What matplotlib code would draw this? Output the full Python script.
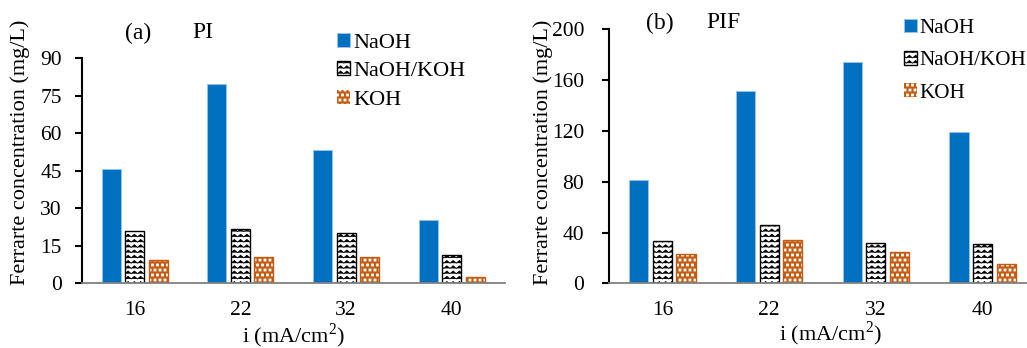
import warnings
import numpy as np
import matplotlib
matplotlib.use('Agg')
import matplotlib.pyplot as plt
from matplotlib import hatch as mhatch
from matplotlib.path import Path

# custom hatch letters ('z', 'q') raise a deprecation warning only
warnings.simplefilter('ignore')

plt.rcParams['font.family'] = ['Liberation Serif', 'DejaVu Serif']
plt.rcParams['font.size'] = 15.5
plt.rcParams['mathtext.fontset'] = 'custom'
plt.rcParams['mathtext.rm'] = 'Liberation Serif'
plt.rcParams['hatch.linewidth'] = 0.6

# Current density and ferrate concentration (mg/L) for each electrolyte
currents = ['16', '22', '32', '40']
pi_naoh = [45.7, 79.6, 53.3, 25.2]
pi_mix = [21.0, 21.8, 20.0, 11.4]
pi_koh = [9.4, 10.6, 10.6, 2.6]
pif_naoh = [81.5, 151.6, 173.9, 118.8]
pif_mix = [33.3, 46.1, 32.0, 31.2]
pif_koh = [23.1, 34.3, 24.4, 15.0]
series_labels = ['NaOH', 'NaOH/KOH', 'KOH']


class ZigZagHatch(mhatch.HatchPatternBase):
    """Horizontal zigzag lines, chosen with 'z' in the hatch string."""

    def __init__(self, hatch, density):
        self.num_rows = hatch.count('z') * 19
        self.num_cols = 16
        self.num_vertices = self.num_rows * (2 * self.num_cols + 1)

    def set_vertices_and_codes(self, vertices, codes):
        xs = np.linspace(0, 1, 2 * self.num_cols + 1)
        amp = 0.5 / self.num_rows
        k = 0
        for y in np.arange(self.num_rows) / self.num_rows:
            for j, x in enumerate(xs):
                vertices[k] = (x, y + amp * (j % 2))
                codes[k] = Path.MOVETO if j == 0 else Path.LINETO
                k += 1


class SquareDotHatch(mhatch.Shapes):
    """Small filled squares on a staggered grid, chosen with 'q'."""
    filled = True
    size = 0.4

    def __init__(self, hatch, density):
        self.num_rows = hatch.count('q') * 20
        square = Path.unit_rectangle()
        self.shape_vertices = square.vertices - 0.5
        self.shape_codes = square.codes
        super().__init__(hatch, density)


mhatch._hatch_types.extend([ZigZagHatch, SquareDotHatch])

W, H = 1027, 348
fig = plt.figure(figsize=(W / 100, H / 100), dpi=100)

bar_w = 0.18
shift = 0.222


def draw_panel(ax, naoh, mix, koh, ymax, ystep, tick_pad):
    x = np.arange(len(currents))
    b1 = ax.bar(x - shift, naoh, bar_w, color='#0070C0', edgecolor='#9DC3E6', linewidth=0.6)
    b2 = ax.bar(x, mix, bar_w, color='white', edgecolor='black', linewidth=1.0, hatch='z')
    b3 = ax.bar(x + shift, koh, bar_w, color='#C55A11', edgecolor='white', linewidth=0, hatch='q')
    ax.bar(x + shift, koh, bar_w, fill=False, edgecolor='#C55A11', linewidth=1.0)

    ax.set_xlim(-0.5, 3.5)
    ax.set_ylim(0, ymax)
    ax.set_yticks(np.arange(0, ymax + 1, ystep))
    ax.set_xticks(x)
    ax.set_xticklabels(currents)
    for s in ['top', 'right']:
        ax.spines[s].set_visible(False)
    ax.spines['left'].set_linewidth(1.5)
    ax.spines['bottom'].set_color('#808080')
    ax.spines['bottom'].set_linewidth(1.3)
    ax.tick_params(axis='y', direction='out', length=4.8, width=1.5, pad=tick_pad)
    ax.tick_params(axis='x', length=0, pad=13)
    ax.set_ylabel('Ferrarte concentration (mg/L)', fontsize=16)
    ax.set_xlabel(r'i (mA/cm$^{2}$)', fontsize=16)
    return [b1, b2, b3]


# (a) PI
ax1 = fig.add_axes([81.7 / W, 64.7 / H, 423 / W, 225 / H])
h1 = draw_panel(ax1, pi_naoh, pi_mix, pi_koh, 90, 15, 9.5)
ax1.yaxis.set_label_coords(-0.122, 0.58)
ax1.xaxis.set_label_coords(0.5, -0.168)
ax1.legend(h1, series_labels, loc='upper left', frameon=False, fontsize=16,
           bbox_to_anchor=(336.7 / W, 1 - 33 / H), bbox_transform=fig.transFigure,
           borderpad=0, borderaxespad=0, handlelength=0.6, handleheight=0.6,
           handletextpad=0.15, labelspacing=0.38)
fig.text(138 / W, 1 - 33 / H, '(a)', ha='center', va='center', fontsize=17)
fig.text(203 / W, 1 - 33 / H, 'PI', ha='center', va='center', fontsize=17)

# (b) PIF
ax2 = fig.add_axes([609 / W, 64.7 / H, 427 / W, 254 / H])
h2 = draw_panel(ax2, pif_naoh, pif_mix, pif_koh, 200, 40, 13)
ax2.yaxis.set_label_coords(-0.131, 0.515)
ax2.xaxis.set_label_coords(0.518, -0.142)
ax2.legend(h2, series_labels, loc='upper left', frameon=False, fontsize=15.2,
           bbox_to_anchor=(904 / W, 1 - 19 / H), bbox_transform=fig.transFigure,
           borderpad=0, borderaxespad=0, handlelength=0.6, handleheight=0.6,
           handletextpad=0.15, labelspacing=0.62)
fig.text(660 / W, 1 - 23 / H, '(b)', ha='center', va='center', fontsize=17)
fig.text(723 / W, 1 - 23 / H, 'PIF', ha='center', va='center', fontsize=17)

fig.savefig('out.png', dpi=100)
